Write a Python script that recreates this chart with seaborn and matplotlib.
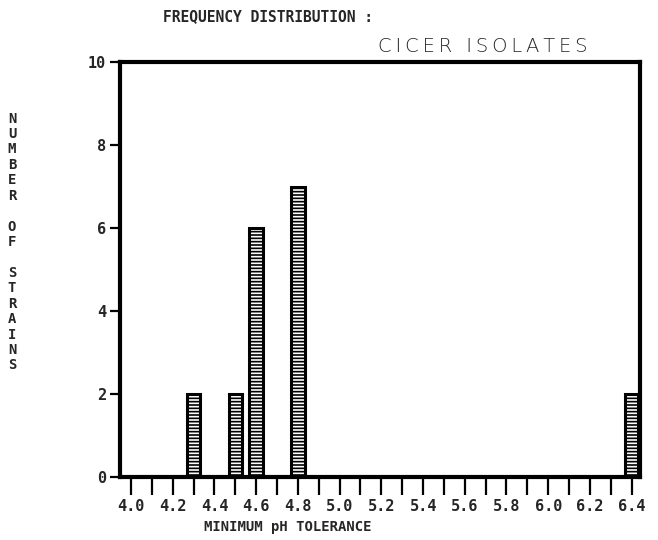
import matplotlib
matplotlib.use("Agg")
import matplotlib.pyplot as plt
import seaborn as sns
import pandas as pd

# Data
ph_values = [4.3, 4.5, 4.6, 4.8, 6.4]
strain_counts = [2, 2, 6, 7, 2]
x_tick_labels = ["4.0", "4.2", "4.4", "4.6", "4.8", "5.0", "5.2", "5.4",
                 "5.6", "5.8", "6.0", "6.2", "6.4"]
y_tick_labels = ["0", "2", "4", "6", "8", "10"]

sns.set_style("white")
plt.rcParams["hatch.linewidth"] = 1.2
plt.rcParams["font.family"] = ["DejaVu Sans Mono", "DejaVu Sans"]

df = pd.DataFrame({"ph": ph_values, "count": strain_counts})

fig = plt.figure(figsize=(6.58, 5.4), dpi=100)
ax = fig.add_axes([0.1824, 0.1167, 0.7902, 0.7683])

sns.barplot(data=df, x="ph", y="count", native_scale=True, width=0.65,
            color="white", edgecolor="black", linewidth=2.2, ax=ax,
            errorbar=None)
for p in ax.patches:
    p.set_hatch("-----")
    p.set_facecolor("white")
    p.set_edgecolor("black")

ax.set_xlim(3.947, 6.44)
ax.set_ylim(0, 10)

major_x = [float(t) for t in x_tick_labels]
ax.set_xticks(major_x)
ax.set_xticklabels(x_tick_labels, fontsize=11, fontweight="bold")
ax.set_xticks([round(4.1 + 0.2 * i, 1) for i in range(12)], minor=True)
ax.set_yticks([float(t) for t in y_tick_labels])
ax.set_yticklabels(y_tick_labels, fontsize=11, fontweight="bold")

ax.tick_params(axis="x", which="both", direction="out", length=13, width=1.6,
               bottom=True, pad=3, color="black")
ax.tick_params(axis="y", direction="out", length=7, width=1.6, left=True,
               pad=3, color="black")

for s in ax.spines.values():
    s.set_visible(True)
    s.set_color("black")
    s.set_linewidth(3)
ax.set_xlabel("")
ax.set_ylabel("")

fig.text(163 / 658, 1 - 17 / 540, "FREQUENCY DISTRIBUTION :", fontsize=10.5,
         fontweight="bold", ha="left", va="center")
fig.text(378 / 658, 1 - 47 / 540, "\u2009".join("CICER ISOLATES"),
         fontsize=14, fontweight="light", family=["DejaVu Sans"],
         ha="left", va="center")
fig.text(288 / 658, 1 - 527 / 540, "MINIMUM pH TOLERANCE", fontsize=10,
         fontweight="bold", ha="center", va="center")

ylabel = "NUMBER OF STRAINS"
fig.text(12 / 658, 1 - 242 / 540, "\n".join(ylabel), fontsize=10,
         fontweight="bold", ha="center", va="center", linespacing=1.13)

fig.savefig("out.png", dpi=100)
